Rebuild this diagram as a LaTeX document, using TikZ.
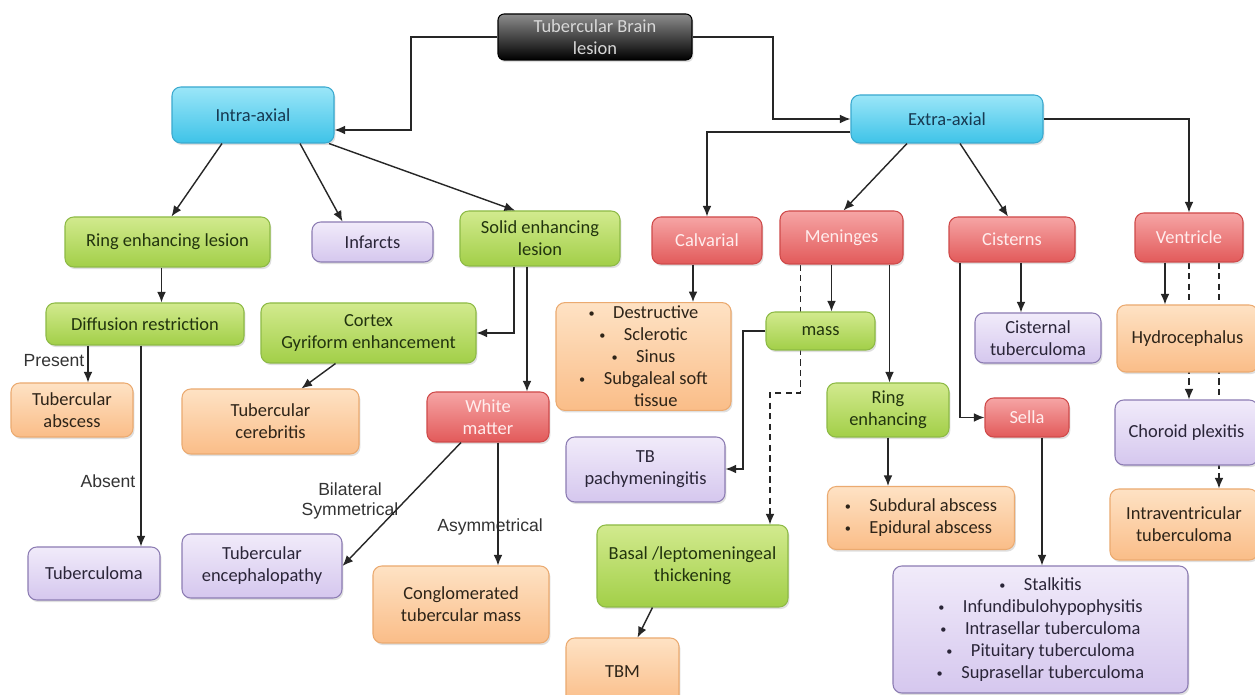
\documentclass[tikz,border=0pt]{standalone}
\usepackage{fontspec}
\setmainfont{Carlito}
\newfontfamily\labelfont{Liberation Sans}
\usetikzlibrary{arrows.meta,calc,shadows,backgrounds}
\definecolor{blkT}{HTML}{8C8C8C}
\definecolor{blkTx}{HTML}{D8D8D8}
\definecolor{cyanT}{HTML}{9BE6F8}
\definecolor{cyanB}{HTML}{3EC3E8}
\definecolor{cyanD}{HTML}{3AA9CF}
\definecolor{cyanTx}{HTML}{173A52}
\definecolor{grnT}{HTML}{D2EA8E}
\definecolor{grnB}{HTML}{A2CF48}
\definecolor{grnD}{HTML}{8DBA45}
\definecolor{grnTx}{HTML}{22340E}
\definecolor{redT}{HTML}{F6A5A5}
\definecolor{redB}{HTML}{E25A5A}
\definecolor{redD}{HTML}{CF4A4A}
\definecolor{redTx}{HTML}{FFEDED}
\definecolor{orT}{HTML}{FEE2C4}
\definecolor{orB}{HTML}{FABD88}
\definecolor{orD}{HTML}{EBAA70}
\definecolor{orTx}{HTML}{2E2418}
\definecolor{puT}{HTML}{F1EBFA}
\definecolor{puB}{HTML}{D5C7EE}
\definecolor{puD}{HTML}{8C7CB3}
\definecolor{puTx}{HTML}{2A2538}
\newcommand\mybox[7]{\node[#2, minimum width={(#5-#3)*0.02cm}, minimum height={(#6-#4)*0.02cm}] (#1) at ({(#3+#5)/2},{(#4+#6)/2}) {#7};}
\newcommand\bul{\raisebox{0.15ex}{\fontsize{7}{7}\selectfont\textbullet}\hspace{1em}}
\tikzset{
  base/.style={rounded corners=5pt, line width=0.6pt, align=center, inner sep=2pt,
    font=\fontsize{10.5}{12.5}\selectfont,
    drop shadow={opacity=0.25, shadow xshift=0.8pt, shadow yshift=-1.2pt}},
  blkbox/.style={base, rounded corners=3.5pt, draw=black, top color=blkT, bottom color=black, text=blkTx},
  cyanbox/.style={base, draw=cyanD, top color=cyanT, bottom color=cyanB, text=cyanTx},
  grnbox/.style={base, draw=grnD, top color=grnT, bottom color=grnB, text=grnTx},
  redbox/.style={base, draw=redD, top color=redT, bottom color=redB, text=redTx},
  orbox/.style={base, draw=orD, top color=orT, bottom color=orB, text=orTx},
  pubox/.style={base, draw=puD, top color=puT, bottom color=puB, text=puTx},
  arr/.style={draw=black!85, line width=0.8pt, -{Latex[length=6pt,width=5pt]}},
  dasharr/.style={arr, dash pattern=on 3.5pt off 2.5pt},
  lbl/.style={font=\labelfont\fontsize{10}{11.5}\selectfont, inner sep=0pt, align=center, text=black!80}
}
\begin{document}
\begin{tikzpicture}[x=0.02cm,y=-0.02cm]
\useasboundingbox (0,0) rectangle (1255,695);
% nodes
\mybox{top}{blkbox}{498}{14}{692}{60}{Tubercular Brain\\lesion}
\mybox{intra}{cyanbox}{172}{87}{334}{143}{Intra-axial}
\mybox{extra}{cyanbox}{851}{95}{1043}{143}{Extra-axial}
\mybox{ring}{grnbox}{65}{217}{270}{267}{Ring enhancing lesion}
\mybox{infarcts}{pubox}{312}{222}{433}{262}{Infarcts}
\mybox{solid}{grnbox}{460}{211}{620}{266}{Solid enhancing\\lesion}
\mybox{calv}{redbox}{652}{217}{762}{264}{Calvarial}
\mybox{men}{redbox}{780}{211}{903}{264}{Meninges}
\mybox{cis}{redbox}{949}{217}{1075}{262}{Cisterns}
\mybox{vent}{redbox}{1135}{213}{1243}{262}{Ventricle}
\mybox{diff}{grnbox}{46}{303}{244}{345}{Diffusion restriction}
\mybox{cortex}{grnbox}{261}{303}{476}{363}{Cortex\\Gyriform enhancement}
\mybox{abscess}{orbox}{11}{383}{133}{437}{Tubercular\\abscess}
\mybox{cereb}{orbox}{182}{389}{359}{454}{Tubercular\\cerebritis}
\mybox{white}{redbox}{427}{392}{549}{442}{White\\matter}
\mybox{destr}{orbox}{556}{303}{731}{410}{\bul Destructive\\\bul Sclerotic\\\bul Sinus\\\bul Subgaleal soft\\\hphantom{\bul}tissue}
\mybox{mass}{grnbox}{766}{312}{875}{350}{mass}
\mybox{cistub}{pubox}{975}{313}{1101}{363}{Cisternal\\tuberculoma}
\mybox{hydro}{orbox}{1117}{305}{1258}{372}{Hydrocephalus}
\mybox{pachy}{pubox}{566}{437}{725}{502}{TB\\pachymeningitis}
\mybox{ring2}{grnbox}{827}{383}{949}{437}{Ring\\enhancing}
\mybox{sella}{redbox}{985}{398}{1069}{437}{Sella}
\mybox{choroid}{pubox}{1115}{400}{1258}{465}{Choroid plexitis}
\node[orbox, align=left, minimum width={187*0.02cm}, minimum height={63*0.02cm}] (sub) at (921,518) {\bul Subdural abscess\\\bul Epidural abscess};
\mybox{intrav}{orbox}{1110}{489}{1258}{560}{Intraventricular\\tuberculoma}
\mybox{tubercu}{pubox}{28}{547}{160}{600}{Tuberculoma}
\mybox{enceph}{pubox}{182}{534}{342}{598}{Tubercular\\encephalopathy}
\mybox{cong}{orbox}{373}{566}{549}{643}{Conglomerated\\tubercular mass}
\mybox{basal}{grnbox}{597}{525}{788}{607}{Basal /leptomeningeal\\thickening}
\mybox{tbm}{orbox}{566}{638}{679}{705}{TBM}
\mybox{stalk}{pubox}{893}{566}{1188}{693}{\bul Stalkitis\\\bul Infundibulohypophysitis\\\bul Intrasellar tuberculoma\\\bul Pituitary tuberculoma\\\bul Suprasellar tuberculoma}
% labels
\node[lbl] (lpresent) at (54,361) {Present};
\node[lbl] (labsent) at (108,481) {Absent};
\node[lbl] (lbilat) at (350,501) {Bilateral\\Symmetrical};
\node[lbl] (lasym) at (490,527) {Asymmetrical};
% connectors
\coordinate (c1) at (411,130);
\draw[arr] (top.west) -| (c1) -- (intra.east |- c1);
\coordinate (c2) at (773,119);
\draw[arr] (top.east) -| (c2) -- (extra.west);
\draw[arr] ($(extra.west)+(0,13)$) -| (calv.north);
\draw[arr] ($(extra.south)+(-40,0)$) -- ($(men.north)+(2,0)$);
\draw[arr] ($(extra.south)+(13,0)$) -- ($(cis.north)+(-4,0)$);
\draw[arr] (extra.east) -| (vent.north);
\draw[arr] ($(intra.south)+(-31,0)$) -- ($(ring.north)+(4,0)$);
\draw[arr] ($(intra.south)+(47,0)$) -- ($(infarcts.north)+(-30,0)$);
\draw[arr] ($(intra.south)+(76,0)$) -- ($(solid.north)+(-25,0)$);
\draw[arr] ($(ring.south)+(-6,0)$) coordinate (t) -- (t |- diff.north);
\draw[arr] ($(solid.south)+(-26,0)$) coordinate (t) |- (cortex.east);
\draw[arr] ($(solid.south)+(-13,0)$) coordinate (t) -- (t |- white.north);
\draw[arr] ($(diff.south)+(-57,0)$) coordinate (t) -- (t |- abscess.north);
\draw[arr] ($(diff.south)+(-4,0)$) coordinate (t) -- (t |- tubercu.north);
\draw[arr] ($(cortex.south)+(-33,0)$) -- ($(cereb.north)+(31,0)$);
\draw[arr] ($(white.south)+(-27,0)$) -- (enceph.east);
\draw[arr] ($(white.south)+(10,0)$) coordinate (t) -- (t |- cong.north);
\draw[arr] ($(calv.south)+(-14,0)$) coordinate (t) -- (t |- destr.north);
\draw[arr] ($(men.south)+(-10,0)$) coordinate (t) -- (t |- mass.north);
\draw[arr] ($(men.south)+(48,0)$) coordinate (t) -- (t |- ring2.north);
\draw[arr] (ring2.south) -- (ring2.south |- sub.north);
\coordinate (c4) at (743,469);
\draw[arr] (mass.west) -| (c4) -- (pachy.east |- c4);
\draw[arr] ($(basal.south)+(-40,0)$) -- ($(tbm.north)+(15,0)$);
\draw[arr] ($(cis.south)+(-52,0)$) |- (sella.west);
\draw[arr] ($(cis.south)+(9,0)$) coordinate (t) -- (t |- cistub.north);
\draw[arr] ($(sella.south)+(15,0)$) coordinate (t) -- (t |- stalk.north);
\draw[arr] ($(vent.south)+(-24,0)$) coordinate (t) -- (t |- hydro.north);
\begin{scope}[on background layer]
\fill[white] (0,0) rectangle (1255,695);
\draw[dasharr] (vent.south) -- (vent.south |- choroid.north);
\draw[dasharr] ($(vent.south)+(30,0)$) coordinate (t) -- (t |- intrav.north);
\coordinate (c3) at (770,393);
\draw[dasharr] ($(men.south)+(-41,0)$) |- (c3) -- (c3 |- basal.north);
\end{scope}
\end{tikzpicture}
\end{document}
